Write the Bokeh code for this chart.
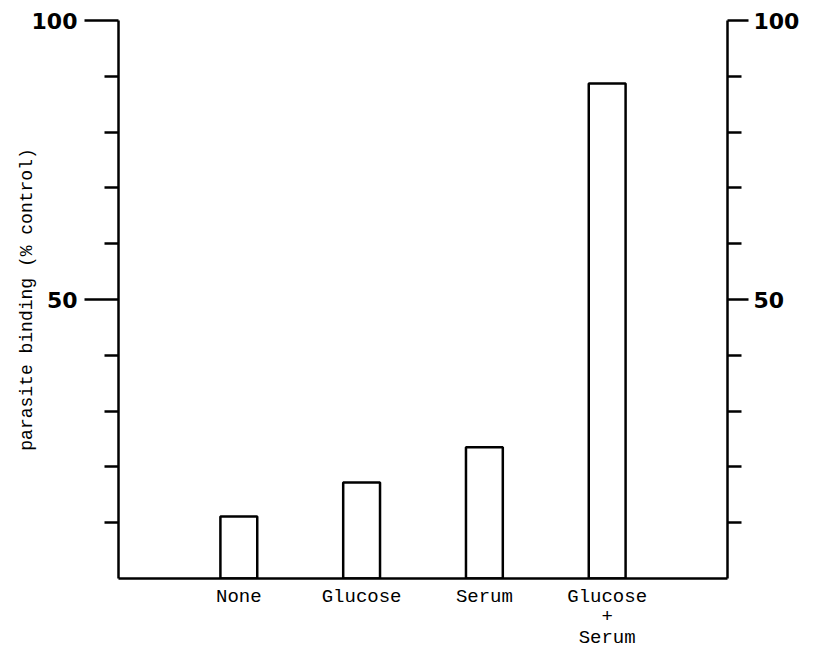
from bokeh.plotting import figure
from bokeh.models import Range1d, LinearAxis, FixedTicker
from bokeh.embed import file_html
from bokeh.resources import INLINE

# ---- data ----
categories = ["None", "Glucose", "Serum", "Glucose\n+\nSerum"]
binding = [11.1, 17.2, 23.5, 88.7]
y_major_ticks = [50, 100]
y_minor_ticks = [10, 20, 30, 40, 60, 70, 80, 90]
y_label = "parasite binding (% control)"

positions = list(range(1, len(categories) + 1))

W, H = 802, 652
p = figure(width=W, height=H, output_backend="svg", toolbar_location=None,
           x_range=Range1d(0.02, 4.98), y_range=Range1d(0, 100),
           min_border_left=118, min_border_right=74, min_border_top=20,
           min_border_bottom=74)
p.outline_line_color = None
p.xgrid.visible = False
p.ygrid.visible = False
p.background_fill_color = "white"
p.border_fill_color = "white"

p.vbar(x=positions, top=binding, bottom=0, width=0.30,
       fill_color="white", line_color="black", line_width=2.5)

ticker = FixedTicker(ticks=y_major_ticks, minor_ticks=y_minor_ticks)

def style_y(ax, major_len, standoff):
    ax.ticker = ticker
    ax.axis_line_width = 2.5
    ax.axis_line_color = "black"
    ax.major_tick_line_width = 2.5
    ax.minor_tick_line_width = 2.5
    ax.major_tick_in = 0
    ax.major_tick_out = major_len
    ax.minor_tick_in = 0
    ax.minor_tick_out = 14
    ax.major_label_standoff = standoff
    ax.major_label_text_font = "DejaVu Sans"
    ax.major_label_text_font_style = "bold"
    ax.major_label_text_font_size = "22px"
    ax.major_label_text_color = "black"

left = p.yaxis[0]
style_y(left, 34, 7)
left.axis_label = y_label
left.axis_label_text_font = "Liberation Mono"
left.axis_label_text_font_style = "normal"
left.axis_label_text_font_size = "18px"
left.axis_label_text_color = "black"
left.axis_label_standoff = -8

right = LinearAxis()
style_y(right, 21, 5)
p.add_layout(right, "right")

xa = p.xaxis[0]
xa.ticker = FixedTicker(ticks=positions)
xa.major_label_overrides = {pos: lab for pos, lab in zip(positions, categories)}
xa.axis_line_width = 2.5
xa.axis_line_color = "black"
xa.major_tick_out = 0
xa.major_tick_in = 0
xa.minor_tick_out = 0
xa.minor_tick_in = 0
xa.major_label_standoff = 7
xa.major_label_text_font = "Liberation Mono"
xa.major_label_text_font_size = "19px"
xa.major_label_text_line_height = 0.95
xa.major_label_text_color = "black"

open("out.html", "w").write(file_html(p, INLINE))
